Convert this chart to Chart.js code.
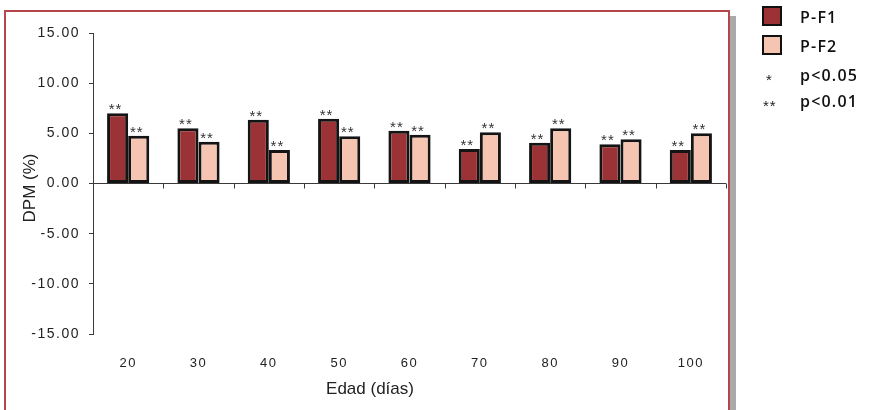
<!DOCTYPE html>
<html lang="es">
<head>
    <meta charset="UTF-8">
    <title>DPM por edad</title>
    <script src="https://cdn.jsdelivr.net/npm/chart.js"></script>
    <style>
        body {
            margin: 0;
            width: 888px;
            height: 410px;
            overflow: hidden;
            background: #fff;
            font-family: "Liberation Sans", Arial, sans-serif;
            position: relative;
        }
        #shadow {
            position: absolute;
            left: 729px;
            top: 16px;
            width: 7px;
            height: 400px;
            background: #aaaaaa;
        }
        #frame {
            position: absolute;
            left: 4px;
            top: 10px;
            width: 722px;
            height: 420px;
            border: 2px solid #b5474b;
        }
        #wrap {
            position: absolute;
            left: 0;
            top: 0;
            width: 888px;
            height: 410px;
        }
        .leg {
            position: absolute;
            font-family: "Open Sans", "Liberation Sans", sans-serif;
            font-weight: 600;
            font-size: 16px;
            letter-spacing: 1.2px;
            color: #111;
            line-height: 20px;
        }
        .box {
            position: absolute;
            width: 16px;
            height: 16px;
            border: 2px solid #111;
        }
        .star {
            position: absolute;
            font-size: 15px;
            letter-spacing: 1px;
            color: #222;
        }
    </style>
</head>
<body>
    <div id="shadow"></div>
    <div id="frame"></div>
    <div id="wrap"><canvas id="myChart"></canvas></div>

    <div class="box" style="left:762px; top:6px; background:#9b3236;"></div>
    <div class="leg" style="left:800px; top:7px;">P-F1</div>
    <div class="box" style="left:762px; top:35px; background:#f6c5b1;"></div>
    <div class="leg" style="left:800px; top:36px;">P-F2</div>
    <div class="star" style="left:766px; top:71px;">*</div>
    <div class="leg" style="left:800px; top:65px;">p&lt;0.05</div>
    <div class="star" style="left:763px; top:97px;">**</div>
    <div class="leg" style="left:800px; top:91px;">p&lt;0.01</div>

    <script>
        // Datos
        const edades = ['20', '30', '40', '50', '60', '70', '80', '90', '100'];
        const pf1 = [7.0, 5.5, 6.35, 6.45, 5.25, 3.45, 4.05, 3.9, 3.35];
        const pf2 = [4.75, 4.15, 3.35, 4.7, 4.85, 5.1, 5.5, 4.4, 5.0];
        const sigF1 = ['**', '**', '**', '**', '**', '**', '**', '**', '**'];
        const sigF2 = ['**', '**', '**', '**', '**', '**', '**', '**', '**'];
        const yTicks = [-15, -10, -5, 0, 5, 10, 15];

        const axisColor = '#3a3a3a';

        // Plugin: marcas de significancia, ticks del eje x en cero y titulos
        const extras = {
            id: 'extras',
            beforeDraw(chart) {
                chart.ctx.letterSpacing = '1.5px';
            },
            afterDatasetsDraw(chart) {
                const ctx = chart.ctx;
                const sigs = [sigF1, sigF2];
                ctx.save();
                ctx.letterSpacing = '1px';
                ctx.font = '15px "Liberation Sans", Arial, sans-serif';
                ctx.fillStyle = '#333';
                ctx.textAlign = 'center';
                ctx.textBaseline = 'alphabetic';
                chart.data.datasets.forEach((ds, d) => {
                    chart.getDatasetMeta(d).data.forEach((el, i) => {
                        ctx.fillText(sigs[d][i], el.x - 2, el.y + 1);
                    });
                });
                ctx.restore();
            },
            afterDraw(chart) {
                const ctx = chart.ctx;
                const a = chart.chartArea;
                const y0 = chart.scales.y.getPixelForValue(0);
                const n = edades.length;
                ctx.save();
                ctx.strokeStyle = axisColor;
                ctx.lineWidth = 1;
                for (let i = 1; i <= n; i++) {
                    const x = Math.round(a.left + i * (a.right - a.left) / n) + 0.5;
                    ctx.beginPath();
                    ctx.moveTo(x, y0);
                    ctx.lineTo(x, y0 + 5);
                    ctx.stroke();
                }
                ctx.letterSpacing = '0px';
                ctx.fillStyle = '#222';
                ctx.font = '17px "Liberation Sans", Arial, sans-serif';
                ctx.textAlign = 'center';
                ctx.textBaseline = 'middle';
                ctx.fillText('Edad (días)', 370, 389);
                ctx.translate(30, 188);
                ctx.rotate(-Math.PI / 2);
                ctx.fillText('DPM (%)', 0, 0);
                ctx.restore();
            }
        };

        const ctx = document.getElementById('myChart').getContext('2d');
        const myChart = new Chart(ctx, {
            type: 'bar',
            data: {
                labels: edades,
                datasets: [
                    {
                        label: 'P-F1',
                        data: pf1,
                        backgroundColor: '#9b3236',
                        borderColor: '#141414',
                        borderWidth: 3,
                        borderSkipped: false
                    },
                    {
                        label: 'P-F2',
                        data: pf2,
                        backgroundColor: '#f6c5b1',
                        borderColor: '#141414',
                        borderWidth: 3,
                        borderSkipped: false
                    }
                ]
            },
            options: {
                responsive: true,
                maintainAspectRatio: false,
                animation: false,
                layout: {
                    padding: { left: 0, right: 162, top: 33, bottom: 0 }
                },
                datasets: {
                    bar: { categoryPercentage: 0.6, barPercentage: 1.0 }
                },
                scales: {
                    x: {
                        afterFit(scale) { scale.height = 76; },
                        grid: { display: false, drawTicks: false },
                        border: { display: false },
                        ticks: {
                            padding: 22,
                            color: '#222',
                            font: { family: '"Liberation Sans", Arial, sans-serif', size: 13 }
                        }
                    },
                    y: {
                        min: -15,
                        max: 15,
                        afterFit(scale) { scale.width = 93; },
                        afterBuildTicks(scale) {
                            scale.ticks = yTicks.map(v => ({ value: v }));
                        },
                        border: { display: true, color: axisColor, width: 1 },
                        grid: {
                            drawTicks: true,
                            tickLength: 4,
                            tickColor: axisColor,
                            color: c => (c.tick && c.tick.value === 0 ? axisColor : 'rgba(0,0,0,0)')
                        },
                        ticks: {
                            padding: 9,
                            color: '#222',
                            font: { family: '"Liberation Sans", Arial, sans-serif', size: 14 },
                            callback: v => v.toFixed(2)
                        }
                    }
                },
                plugins: {
                    legend: { display: false },
                    tooltip: { enabled: false }
                }
            },
            plugins: [extras]
        });
    </script>
</body>
</html>
